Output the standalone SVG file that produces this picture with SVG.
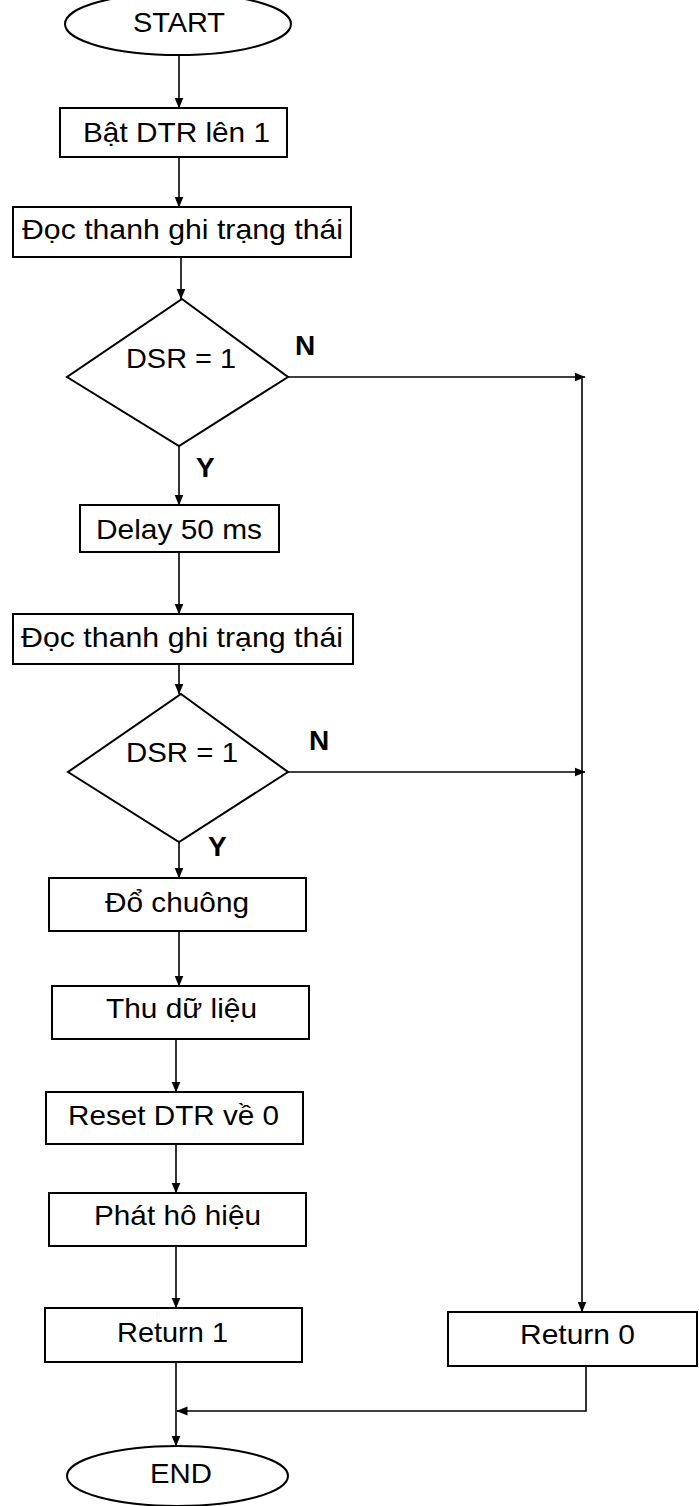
<svg xmlns="http://www.w3.org/2000/svg" width="699" height="1506" viewBox="0 0 699 1506">
  <style>
    .shape { fill: #ffffff; stroke: #000000; stroke-width: 2; }
    .label { font-family: "Liberation Sans", Arial, sans-serif; font-size: 28px; fill: #000000; text-anchor: middle; }
    .branch { font-family: "Liberation Sans", Arial, sans-serif; font-size: 28px; font-weight: bold; fill: #000000; }
    .wire { fill: none; stroke: #000000; stroke-width: 1.6; }
  </style>
  <defs>
    <marker id="arrow" markerWidth="11" markerHeight="10" refX="10.5" refY="5" orient="auto" markerUnits="userSpaceOnUse">
      <path d="M0,0.5 L11,5 L0,9.5 Z" fill="#000000"/>
    </marker>
  </defs>

  <rect width="699" height="1506" fill="#ffffff"/>

  <!-- connectors -->
  <g id="connectors">
    <line class="wire" x1="179" y1="55" x2="179" y2="108" marker-end="url(#arrow)"/>
    <line class="wire" x1="179" y1="157" x2="179" y2="207" marker-end="url(#arrow)"/>
    <line class="wire" x1="181" y1="257" x2="181" y2="299" marker-end="url(#arrow)"/>
    <line class="wire" x1="179" y1="446" x2="179" y2="505" marker-end="url(#arrow)"/>
    <line class="wire" x1="179" y1="552" x2="179" y2="614" marker-end="url(#arrow)"/>
    <line class="wire" x1="179" y1="664" x2="179" y2="694" marker-end="url(#arrow)"/>
    <line class="wire" x1="179" y1="842" x2="179" y2="878" marker-end="url(#arrow)"/>
    <line class="wire" x1="179" y1="931" x2="179" y2="986" marker-end="url(#arrow)"/>
    <line class="wire" x1="176" y1="1039" x2="176" y2="1092" marker-end="url(#arrow)"/>
    <line class="wire" x1="176" y1="1144" x2="176" y2="1193" marker-end="url(#arrow)"/>
    <line class="wire" x1="176" y1="1246" x2="176" y2="1308" marker-end="url(#arrow)"/>
    <line class="wire" x1="176" y1="1362" x2="176" y2="1446" marker-end="url(#arrow)"/>
    <!-- "N" exits to the right-hand return path -->
    <line class="wire" x1="288" y1="377" x2="585" y2="377" stroke-width="2" marker-end="url(#arrow)"/>
    <line class="wire" x1="288" y1="772" x2="585" y2="772" marker-end="url(#arrow)"/>
    <line class="wire" x1="582" y1="376" x2="582" y2="1312" marker-end="url(#arrow)"/>
    <!-- Return 0 rejoins above END -->
    <path class="wire" d="M586,1366 L586,1411 L177,1411" stroke-width="2" marker-end="url(#arrow)"/>
  </g>

  <g id="start">
    <ellipse class="shape" cx="178" cy="24" rx="113" ry="31"/>
    <text class="label" x="179" y="32" textLength="92" lengthAdjust="spacingAndGlyphs">START</text>
  </g>

  <g id="set-dtr">
    <rect class="shape" x="60" y="108" width="227" height="49"/>
    <text class="label" x="176.5" y="142" textLength="187" lengthAdjust="spacingAndGlyphs">Bật DTR lên 1</text>
  </g>

  <g id="read-status-1">
    <rect class="shape" x="13" y="207" width="338" height="50"/>
    <text class="label" x="182.5" y="239" textLength="321" lengthAdjust="spacingAndGlyphs">Đọc thanh ghi trạng thái</text>
  </g>

  <g id="check-dsr-1">
    <polygon class="shape" points="182,299 288,377 179,446 67,377"/>
    <text class="label" x="181" y="368" textLength="110" lengthAdjust="spacingAndGlyphs">DSR = 1</text>
    <text class="branch" x="295" y="355">N</text>
    <text class="branch" x="196" y="477">Y</text>
  </g>

  <g id="delay">
    <rect class="shape" x="80" y="505" width="199" height="47"/>
    <text class="label" x="179" y="539" textLength="166" lengthAdjust="spacingAndGlyphs">Delay 50 ms</text>
  </g>

  <g id="read-status-2">
    <rect class="shape" x="13" y="614" width="340" height="50"/>
    <text class="label" x="182" y="647" textLength="322" lengthAdjust="spacingAndGlyphs">Đọc thanh ghi trạng thái</text>
  </g>

  <g id="check-dsr-2">
    <polygon class="shape" points="181,694 288,772 179,842 68,772"/>
    <text class="label" x="182" y="762" textLength="112" lengthAdjust="spacingAndGlyphs">DSR = 1</text>
    <text class="branch" x="309" y="750">N</text>
    <text class="branch" x="208" y="856">Y</text>
  </g>

  <g id="ring">
    <rect class="shape" x="49" y="878" width="257" height="53"/>
    <text class="label" x="177" y="912" textLength="144" lengthAdjust="spacingAndGlyphs">Đổ chuông</text>
  </g>

  <g id="receive">
    <rect class="shape" x="52" y="986" width="257" height="53"/>
    <text class="label" x="181.5" y="1018" textLength="151" lengthAdjust="spacingAndGlyphs">Thu dữ liệu</text>
  </g>

  <g id="reset-dtr">
    <rect class="shape" x="46" y="1092" width="257" height="52"/>
    <text class="label" x="173.5" y="1125" textLength="211" lengthAdjust="spacingAndGlyphs">Reset DTR về 0</text>
  </g>

  <g id="send-callsign">
    <rect class="shape" x="49" y="1193" width="257" height="53"/>
    <text class="label" x="177.5" y="1225" textLength="167" lengthAdjust="spacingAndGlyphs">Phát hô hiệu</text>
  </g>

  <g id="return-1">
    <rect class="shape" x="45" y="1308" width="257" height="54"/>
    <text class="label" x="172.5" y="1342" textLength="111" lengthAdjust="spacingAndGlyphs">Return 1</text>
  </g>

  <g id="return-0">
    <rect class="shape" x="448" y="1312" width="249" height="54"/>
    <text class="label" x="577.5" y="1344" textLength="115" lengthAdjust="spacingAndGlyphs">Return 0</text>
  </g>

  <g id="end">
    <ellipse class="shape" cx="177.5" cy="1476" rx="110.5" ry="30"/>
    <text class="label" x="181" y="1483" textLength="62" lengthAdjust="spacingAndGlyphs">END</text>
  </g>
</svg>
